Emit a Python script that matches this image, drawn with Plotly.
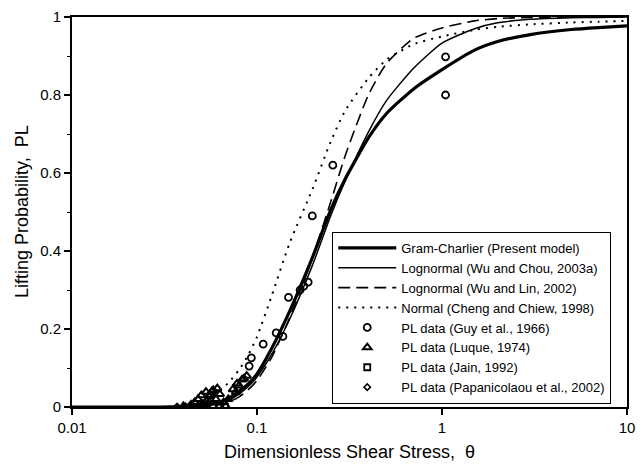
import plotly.graph_objects as go

# ---- curve data ----
theta_curve = [0.01, 0.02, 0.03, 0.04, 0.045, 0.05, 0.06, 0.07, 0.08, 0.09, 0.1, 0.12, 0.15,
               0.2, 0.25, 0.3, 0.4, 0.5, 0.7, 1, 1.5, 2, 3, 5, 7, 10]
p_gram_charlier = [0, 0, 0, 0.001, 0.002, 0.004, 0.01, 0.022, 0.04, 0.06, 0.085, 0.15, 0.245,
                   0.385, 0.505, 0.585, 0.69, 0.752, 0.815, 0.865, 0.915, 0.937, 0.955, 0.968, 0.973, 0.977]
p_wu_chou = [0, 0, 0, 0, 0.001, 0.002, 0.007, 0.017, 0.033, 0.053, 0.077, 0.135, 0.225,
             0.365, 0.49, 0.58, 0.705, 0.785, 0.868, 0.933, 0.97, 0.985, 0.994, 0.998, 0.999, 1.0]
p_wu_lin = [0, 0, 0, 0, 0, 0.001, 0.004, 0.012, 0.026, 0.045, 0.068, 0.127, 0.228,
            0.385, 0.525, 0.645, 0.80, 0.88, 0.945, 0.972, 0.99, 0.996, 0.999, 1, 1, 1]
p_cheng_chiew = [0, 0, 0, 0.002, 0.006, 0.012, 0.033, 0.062, 0.095, 0.135, 0.18, 0.285, 0.42,
                 0.56, 0.68, 0.76, 0.843, 0.89, 0.93, 0.95, 0.967, 0.975, 0.981, 0.986, 0.988, 0.99]

# ---- measured data ----
guy_theta = [0.0907, 0.0932, 0.108, 0.127, 0.138, 0.148, 0.171, 0.179, 0.189, 0.199, 0.257, 1.045, 1.045]
guy_p = [0.105, 0.126, 0.161, 0.19, 0.181, 0.281, 0.30, 0.31, 0.32, 0.49, 0.62, 0.898, 0.80]

luque_theta = [0.040, 0.044, 0.046, 0.048, 0.050, 0.051, 0.053, 0.054, 0.055, 0.056, 0.057, 0.058,
               0.060, 0.061, 0.063, 0.066, 0.070, 0.074, 0.077, 0.078, 0.080, 0.083, 0.085, 0.088]
luque_p = [0.002, 0.006, 0.012, 0.02, 0.03, 0.008, 0.039, 0.018, 0.028, 0.031, 0.04, 0.043,
           0.02, 0.048, 0.033, 0.012, 0.02, 0.045, 0.039, 0.06, 0.055, 0.07, 0.073, 0.08]

jain_theta = [0.0443, 0.049, 0.052, 0.058, 0.063, 0.067]
jain_p = [0.001, 0.0, 0.003, 0.002, 0.001, 0.0]

papa_theta = [0.037, 0.041, 0.045, 0.050, 0.054, 0.062, 0.068]
papa_p = [0.001, 0.002, 0.004, 0.006, 0.01, 0.003, 0.002]

x_ticks = [0.01, 0.1, 1, 10]
x_ticktext = ["0.01", "0.1", "1", "10"]
y_ticks = [0, 0.2, 0.4, 0.6, 0.8, 1]
y_ticktext = ["0", "0.2", "0.4", "0.6", "0.8", "1"]
y_minor = [0.1, 0.3, 0.5, 0.7, 0.9]

FONT = "Arial, Liberation Sans, sans-serif"

fig = go.Figure()
fig.add_trace(go.Scatter(x=theta_curve, y=p_gram_charlier, mode="lines",
                         line=dict(color="black", width=3.2, shape="spline", smoothing=0.6),
                         name="Gram-Charlier (Present model)"))
fig.add_trace(go.Scatter(x=theta_curve, y=p_wu_chou, mode="lines",
                         line=dict(color="black", width=1.5, shape="spline", smoothing=0.6),
                         name="Lognormal (Wu and Chou, 2003a)"))
fig.add_trace(go.Scatter(x=theta_curve, y=p_wu_lin, mode="lines",
                         line=dict(color="black", width=1.6, dash="12px,6px", shape="spline", smoothing=0.6),
                         name="Lognormal (Wu and Lin, 2002)"))
fig.add_trace(go.Scatter(x=theta_curve, y=p_cheng_chiew, mode="lines",
                         line=dict(color="black", width=2, dash="2px,6px", shape="spline", smoothing=0.6),
                         name="Normal (Cheng and Chiew, 1998)"))
fig.add_trace(go.Scatter(x=guy_theta, y=guy_p, mode="markers",
                         marker=dict(symbol="circle-open", size=7, color="black", line=dict(width=1.8)),
                         name="PL data (Guy et al., 1966)"))
fig.add_trace(go.Scatter(x=luque_theta, y=luque_p, mode="markers",
                         marker=dict(symbol="triangle-up-open", size=7.5, color="black", line=dict(width=2)),
                         name="PL data (Luque, 1974)"))
fig.add_trace(go.Scatter(x=jain_theta, y=jain_p, mode="markers",
                         marker=dict(symbol="square-open", size=6, color="black", line=dict(width=1.8)),
                         name="PL data (Jain, 1992)"))
fig.add_trace(go.Scatter(x=papa_theta, y=papa_p, mode="markers",
                         marker=dict(symbol="diamond-open", size=5, color="black", line=dict(width=1.5)),
                         name="PL data (Papanicolaou et al., 2002)"))

fig.update_layout(
    width=643, height=468,
    margin=dict(l=72, r=8, t=15, b=61),
    paper_bgcolor="white", plot_bgcolor="white",
    font=dict(family=FONT, color="black", size=15),
    showlegend=True,
    legend=dict(x=0.4689, y=0.449, xanchor="left", yanchor="top",
                bgcolor="white", bordercolor="black", borderwidth=1,
                font=dict(family=FONT, size=13, color="black"),
                tracegroupgap=0, itemwidth=58),
    xaxis=dict(type="log", range=[-2, 1], tickvals=x_ticks, ticktext=x_ticktext,
               ticks="outside", ticklen=6, tickwidth=1.5, tickcolor="black",
               showline=True, linecolor="black", linewidth=2, mirror=True,
               showgrid=False, zeroline=False, tickfont=dict(size=15)),
    yaxis=dict(range=[0, 1], tickvals=y_ticks, ticktext=y_ticktext,
               ticks="outside", ticklen=6, tickwidth=1.5, tickcolor="black",
               minor=dict(tickvals=y_minor, ticks="outside", ticklen=3, tickwidth=1, tickcolor="black"),
               showline=True, linecolor="black", linewidth=2, mirror=True,
               showgrid=False, zeroline=False, tickfont=dict(size=15)),
    annotations=[
        dict(text="Dimensionless Shear Stress,  \u03b8", xref="paper", yref="paper",
             x=0.5, y=0, yanchor="middle", yshift=-45, showarrow=False,
             font=dict(size=18, family=FONT)),
        dict(text="Lifting Probability,  PL", xref="paper", yref="paper",
             x=0, y=0.5, xanchor="center", xshift=-50, textangle=-90, showarrow=False,
             font=dict(size=18, family=FONT)),
    ],
)

fig.write_html("out.html")
